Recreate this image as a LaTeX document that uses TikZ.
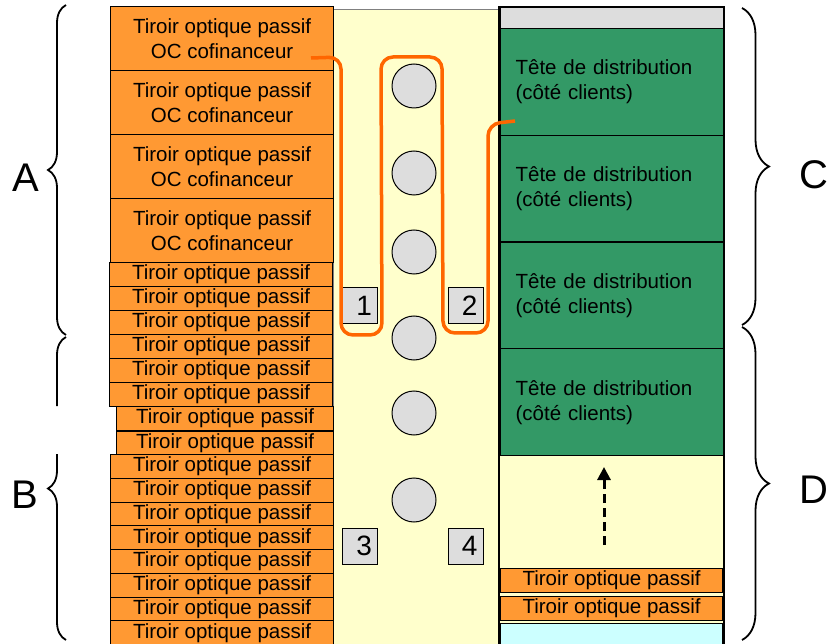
\documentclass[tikz,border=0pt]{standalone}
\usepackage{fontspec}
\setmainfont{Liberation Sans}
\usetikzlibrary{decorations.pathreplacing,arrows.meta}
\definecolor{tiroirorange}{HTML}{FF9933}
\definecolor{tetegreen}{HTML}{339966}
\definecolor{baieyellow}{HTML}{FFFFCC}
\definecolor{baiegray}{HTML}{DDDDDD}
\definecolor{baiecyan}{HTML}{CCFFFF}
\definecolor{cableorange}{HTML}{FF6600}
\tikzset{
  txt/.style={font=\fontsize{20.5}{25}\selectfont},
  tiroirbox/.style={txt,draw,line width=1.2pt,fill=tiroirorange,anchor=north west,
    inner sep=0pt,minimum width=223pt,minimum height=24pt},
  tetebox/.style={txt,draw,line width=1.2pt,fill=tetegreen,anchor=north west,
    inner xsep=15pt,inner ysep=0pt,text width=193pt,minimum height=106.75pt,align=left},
  trou/.style={circle,draw,line width=1pt,fill=baiegray,minimum size=44pt,inner sep=0pt},
  numbox/.style={draw,line width=1pt,fill=baiegray,font=\fontsize{28}{28}\selectfont,
    text width=24pt,inner xsep=5.5pt,minimum width=35pt,minimum height=36pt,align=right},
  accolade/.style={decorate,decoration={brace,amplitude=#1},line width=1.8pt},
  lettre/.style={font=\fontsize{40}{40}\selectfont},
  cable/.style={cableorange,line width=3.5pt,rounded corners=12pt},
  fleche/.style={line width=3pt,dash pattern=on 9pt off 5pt,-{Triangle[length=13pt,width=13pt]}}
}
\begin{document}
\begin{tikzpicture}[x=1pt,y=-1pt]
  \useasboundingbox (0,0) rectangle (830,644);
  \draw[fill=baieyellow,draw=gray] (333,9) rectangle (499,650);
  \foreach \y [count=\i] in {6,70,134,198}
    \node[tiroirbox,minimum height=64pt,align=center] (oc\i) at (110,\y) {Tiroir optique passif\\OC cofinanceur};
  \foreach \i in {0,...,5}
    \node[tiroirbox] (ta\i) at (109,{262+\i*24}) {Tiroir optique passif};
  \foreach \i in {0,1}
    \node[tiroirbox,minimum width=217pt] (tb\i) at (116,{406+\i*24.3}) {Tiroir optique passif};
  \foreach \i in {0,...,7}
    \node[tiroirbox,minimum height=23.75pt] (tc\i) at (110,{454+\i*23.75}) {Tiroir optique passif};

  \fill[baieyellow] (500,455) rectangle (723,650);
  \node[draw,line width=1.2pt,fill=baiegray,anchor=north west,inner sep=0pt,minimum width=223pt,minimum height=21pt] (haut) at (500,7) {};
  \foreach \i in {0,...,3}
    \node[tetebox] (tete\i) at (500,{28+\i*106.75}) {Tête de distribution\\(côté clients)};
  \node[tiroirbox,minimum width=222pt] (td0) at (500,568) {Tiroir optique passif};
  \node[tiroirbox,minimum width=222pt] (td1) at (500,596) {Tiroir optique passif};
  \node[draw,line width=1.2pt,fill=baiecyan,anchor=north west,inner sep=0pt,minimum width=222pt,minimum height=30pt] (bas) at (500,623) {};
  \draw[line width=1.8pt] (499,7) rectangle (724,650);

  \foreach \y [count=\i] in {86,173,252,338,413,500}
    \node[trou] (trou\i) at (414,\y) {};
  \foreach \x/\y/\n in {360/306/1, 465.5/306/2, 360/546/3, 465.5/546/4}
    \node[numbox] (num\n) at (\x,\y) {\n};

  \coordinate (cabdep) at (311,58);
  \coordinate (cabfin) at (515,121);
  \draw[cable] (cabdep) -- (341,57) -- (341,335) -- (382,335) -- (381,57) -- (442,57)
    -- (443,333) -- (488,333) -- (488,124) -- (cabfin);

  \coordinate (fldep) at (604,545);
  \coordinate (flfin) at (604,467);
  \draw[fleche] (fldep) -- (flfin);

  \draw[accolade=18pt] (66,335) -- (66,5);
  \begin{scope}
    \clip (0,0) rectangle (116,406) (0,454) rectangle (116,644);
    \draw[accolade=18pt] (66,640) -- (66,337);
  \end{scope}
  \draw[accolade=27pt] (742,8) -- (742,325);
  \draw[accolade=27pt] (742,327) -- (742,640);
  \node[lettre] (A) at (26,178) {A};
  \node[lettre] (B) at (25,495) {B};
  \node[lettre] (C) at (814,175) {C};
  \node[lettre] (D) at (814,490) {D};
\end{tikzpicture}
\end{document}
